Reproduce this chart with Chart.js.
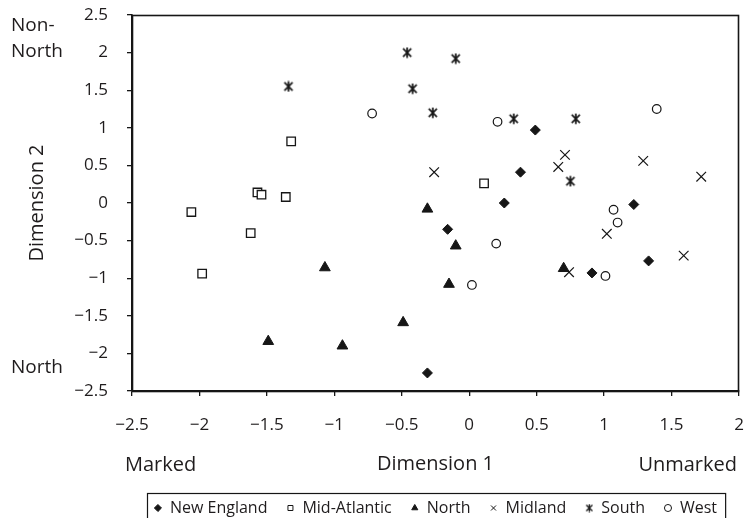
<!DOCTYPE html>
<html>
<head>
<meta charset="utf-8">
<script src="https://cdn.jsdelivr.net/npm/chart.js@4/dist/chart.umd.min.js"></script>
<style>
  html, body { margin: 0; padding: 0; background: #fff; }
  #wrap { width: 747px; height: 518px; position: relative; }
</style>
</head>
<body>
<div id="wrap"><canvas id="c" width="747" height="518"></canvas></div>
<script>
// ---- data (Dimension 1, Dimension 2) ----
const seriesNames = ['New England', 'Mid-Atlantic', 'North', 'Midland', 'South', 'West'];
const newEngland = [[0.49, 0.97], [0.38, 0.41], [0.26, 0.0], [1.22, -0.02], [-0.16, -0.35], [0.91, -0.93], [1.33, -0.77], [-0.31, -2.26]];
const midAtlantic = [[-1.32, 0.82], [-1.57, 0.14], [-1.54, 0.11], [-1.36, 0.08], [-2.06, -0.12], [-1.62, -0.40], [-1.98, -0.94], [0.11, 0.26]];
const north = [[-0.31, -0.08], [-0.10, -0.57], [-1.07, -0.86], [0.70, -0.87], [-0.15, -1.08], [-0.49, -1.59], [-1.49, -1.84], [-0.94, -1.90]];
const midland = [[-0.26, 0.41], [0.71, 0.64], [0.66, 0.48], [1.29, 0.56], [1.72, 0.35], [1.02, -0.41], [0.74, -0.92], [1.59, -0.70]];
const south = [[-1.34, 1.55], [-0.46, 2.0], [-0.42, 1.52], [-0.10, 1.92], [-0.27, 1.20], [0.33, 1.12], [0.79, 1.12], [0.75, 0.29]];
const west = [[-0.72, 1.19], [0.21, 1.08], [1.39, 1.25], [1.07, -0.09], [1.10, -0.26], [0.20, -0.54], [1.01, -0.97], [0.02, -1.09]];
const xTicks = [-2.5, -2, -1.5, -1, -0.5, 0, 0.5, 1, 1.5, 2];
const yTicks = [-2.5, -2, -1.5, -1, -0.5, 0, 0.5, 1, 1.5, 2, 2.5];

const INK = '#161616';
const TEXT = '#1f1c1d';
const FONT = "'Open Sans', 'Noto Sans', sans-serif";

function fmt(v) {
  const s = String(Math.abs(v));
  return v < 0 ? '\u2212' + s : s;
}
function pts(arr) { return arr.map(p => ({ x: p[0], y: p[1] })); }

// asterisk-like marker (x with a vertical bar) for South
function starMarker(size, lw) {
  const c = document.createElement('canvas');
  c.width = size; c.height = size;
  const g = c.getContext('2d');
  const m = size / 2, a = size * 0.34, v = size * 0.44;
  g.strokeStyle = INK; g.lineWidth = lw; g.lineCap = 'butt';
  g.beginPath();
  g.moveTo(m - a, m - a); g.lineTo(m + a, m + a);
  g.moveTo(m + a, m - a); g.lineTo(m - a, m + a);
  g.moveTo(m, m - v); g.lineTo(m, m + v);
  g.stroke();
  return c;
}
const southPlot = starMarker(12, 1.7);
const southLegend = starMarker(9, 1.3);

const styles = [
  { pointStyle: 'rectRot', radius: 5, bg: INK, bw: 1 },
  { pointStyle: 'rect', radius: 6, bg: '#fff', bw: 1.3 },
  { pointStyle: 'triangle', radius: 6.2, bg: INK, bw: 1 },
  { pointStyle: 'crossRot', radius: 6.8, bg: INK, bw: 1.2 },
  { pointStyle: southPlot, radius: 6, bg: INK, bw: 1 },
  { pointStyle: 'circle', radius: 4.3, bg: '#fff', bw: 1.2 }
];
const allData = [newEngland, midAtlantic, north, midland, south, west];

const datasets = allData.map((d, i) => ({
  label: seriesNames[i],
  data: pts(d),
  pointStyle: styles[i].pointStyle,
  pointRadius: styles[i].radius,
  pointHoverRadius: styles[i].radius,
  backgroundColor: styles[i].bg,
  borderColor: INK,
  borderWidth: styles[i].bw,
  showLine: false
}));

const frameAndText = {
  id: 'frameAndText',
  beforeLayout(chart) {
    const lg = chart.legend;
    if (lg && !lg._patched) {
      const orig = lg.fit;
      lg.fit = function () { orig.call(this); this.height = 37; };
      lg._patched = true;
    }
  },
  afterDraw(chart) {
    const { ctx, chartArea: ca } = chart;
    ctx.save();
    // full plot frame
    ctx.strokeStyle = INK;
    ctx.lineWidth = 1.6;
    ctx.strokeRect(Math.round(ca.left) + 0.5, Math.round(ca.top) + 0.5,
                   Math.round(ca.right - ca.left) - 1, Math.round(ca.bottom - ca.top));

    // side annotations
    ctx.fillStyle = TEXT;
    ctx.font = "19px " + FONT;
    ctx.textBaseline = 'alphabetic';
    ctx.textAlign = 'left';
    ctx.fillText('Non-', 11, 31);
    ctx.fillText('North', 11, 57);
    ctx.fillText('North', 11, 373);
    ctx.textBaseline = 'middle';
    ctx.font = "20px " + FONT;
    ctx.fillText('Marked', 125, 465);
    ctx.textAlign = 'right';
    ctx.fillText('Unmarked', 737, 465);

    // legend frame
    const lg = chart.legend;
    if (lg && lg.legendHitBoxes && lg.legendHitBoxes.length) {
      const hb = lg.legendHitBoxes;
      let l = Infinity, r = -Infinity, t = Infinity;
      hb.forEach(h => { l = Math.min(l, h.left); r = Math.max(r, h.left + h.width); t = Math.min(t, h.top); });
      const midY = t + hb[0].height / 2;
      ctx.lineWidth = 1.2;
      ctx.strokeStyle = INK;
      ctx.strokeRect(Math.round(l) - 6.5, Math.round(midY) - 14.5, (r - l) + 15, 40);
    }
    ctx.restore();
  }
};

new Chart(document.getElementById('c'), {
  type: 'scatter',
  data: { datasets },
  plugins: [frameAndText],
  options: {
    responsive: false,
    animation: false,
    devicePixelRatio: 1,
    layout: { padding: { left: 0, right: 6, top: 15, bottom: 0 } },
    plugins: {
      tooltip: { enabled: false },
      legend: {
        position: 'bottom',
        fullSize: false,
        labels: {
          usePointStyle: true,
          boxWidth: 8,
          boxHeight: 5,
          padding: 19,
          color: TEXT,
          font: { family: FONT, size: 16 },
          generateLabels(chart) {
            return chart.data.datasets.map((ds, i) => ({
              text: ds.label,
              fillStyle: ds.backgroundColor,
              strokeStyle: INK,
              lineWidth: 1,
              pointStyle: i === 4 ? southLegend : ds.pointStyle,
              fontColor: TEXT,
              hidden: false,
              datasetIndex: i
            }));
          }
        }
      }
    },
    scales: {
      x: {
        type: 'linear',
        min: -2.5, max: 2,
        afterBuildTicks(scale) { scale.ticks = xTicks.map(v => ({ value: v })); },
        afterFit(scale) { scale.height = 90; scale.paddingLeft = 0; scale.paddingRight = 0; },
        ticks: { color: TEXT, font: { family: FONT, size: 17 }, padding: 19, callback: v => fmt(v), maxRotation: 0 },
        grid: { display: true, drawOnChartArea: false, drawTicks: true, tickLength: 5, color: INK, lineWidth: 1.3 },
        border: { display: true, color: INK, width: 1.6 },
        title: { display: true, text: 'Dimension 1', color: TEXT, font: { family: FONT, size: 20 }, padding: { top: 0, bottom: 5 } }
      },
      y: {
        type: 'linear',
        min: -2.5, max: 2.5,
        afterBuildTicks(scale) { scale.ticks = yTicks.map(v => ({ value: v })); },
        afterFit(scale) { scale.width = 132; scale.paddingTop = 0; scale.paddingBottom = 0; },
        ticks: { color: TEXT, font: { family: FONT, size: 17 }, padding: 19, callback: v => fmt(v) },
        grid: { display: true, drawOnChartArea: false, drawTicks: true, tickLength: 5, color: INK, lineWidth: 1.3 },
        border: { display: true, color: INK, width: 1.6 },
        title: { display: true, text: 'Dimension 2', color: TEXT, font: { family: FONT, size: 20 }, padding: { top: 25, bottom: 0 } }
      }
    }
  }
});
</script>
</body>
</html>
